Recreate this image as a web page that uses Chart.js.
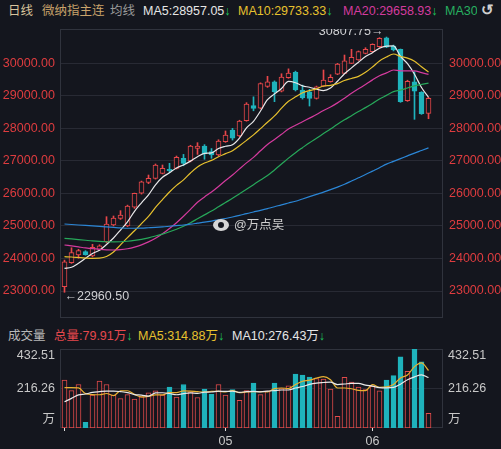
<!DOCTYPE html>
<html>
<head>
<meta charset="utf-8">
<script src="https://cdn.jsdelivr.net/npm/chart.js@4.4.0/dist/chart.umd.min.js"></script>
<style>
html,body{margin:0;padding:0;background:#14161e;}
body{width:501px;height:449px;position:relative;overflow:hidden;font-family:"Liberation Sans","Noto Sans CJK SC",sans-serif;font-size:12.5px;}
.t{position:absolute;white-space:nowrap;line-height:16px;}
.dn{color:#1fc25a;font-weight:bold;}
#k{position:absolute;left:0;top:29px;}
#v{position:absolute;left:0;top:349px;}
.wb{position:absolute;left:213px;top:219px;width:16px;height:12px;border-radius:50%;background:#d6d6d6;}
.wb i{position:absolute;left:5px;top:3px;width:6px;height:6px;border-radius:50%;background:#14161e;}
</style>
</head>
<body>
<canvas id="k" width="501" height="289"></canvas>
<canvas id="v" width="501" height="100"></canvas>

<div class="t" style="left:8px;top:3px;color:#d8c49c">日线</div>
<div class="t" style="left:42px;top:3px;color:#c9a36b">微纳指主连</div>
<div class="t" style="left:110px;top:3px;color:#9a9a9a">均线</div>
<div class="t" id="hMa5" style="left:143px;top:3px;color:#e6e6e6"></div>
<div class="t" id="hMa10" style="left:238px;top:3px;color:#e7c12e"></div>
<div class="t" id="hMa20" style="left:343px;top:3px;color:#d43b9e"></div>
<div class="t" id="hMa30" style="left:445px;top:3px;width:32px;overflow:hidden;color:#27b060"></div>
<div class="t" style="left:481px;top:2px;color:#d0d0d0;font-size:15px;font-weight:bold">↺</div>

<div class="t" style="left:8px;top:328px;color:#b8b8b8">成交量</div>
<div class="t" id="hVol" style="left:54px;top:328px;color:#e5484d"></div>
<div class="t" id="hVma5" style="left:138px;top:328px;color:#e7c12e"></div>
<div class="t" id="hVma10" style="left:232px;top:328px;color:#e6e6e6"></div>

<div class="wb"><i></i></div>
<div class="t" style="left:234px;top:217px;color:#d0d0d0">@万点吴</div>

<script>
// K线 (53 根日线)
const open = [23133,23870,24110,24210,24076,24280,24516,25030,25235,25000,25574,26004,26342,26465,26618,26740,26772,27080,26997,27385,27457,27283,27181,27590,27950,27766,28240,28697,28620,29290,29434,29140,29560,29723,29180,29127,28924,29300,29434,29670,29693,30000,30102,30307,30357,30510,30780,30530,30430,28850,29434,29108,28462];
const high = [23950,24330,24282,24240,24436,24420,25285,25306,25470,25640,26010,26380,26566,26905,26874,26925,27150,27200,27480,27560,27500,27380,27650,27920,28000,28250,28790,28970,29400,29600,29460,29680,29830,29760,29330,29200,29300,29795,29650,30000,30255,30430,30380,30480,30600,30790,30807.75,30560,30440,29480,29742,29130,28955];
const low = [22960.5,23850,24005,24100,24050,24250,24480,25000,25200,24980,25540,25980,26300,26440,26600,26640,26750,26850,26970,27200,27050,27080,27160,27570,27640,27740,28220,28540,28600,29260,28820,29120,29540,29150,28900,28687,28900,29280,29420,29650,29680,29990,30090,30290,30340,30490,30480,30380,28800,28830,28278,28430,28297];
const close = [23900,24178,24240,24115,24344,24390,25060,25240,25337,25613,26004,26360,26465,26874,26772,26700,27110,26925,27457,27457,27212,27181,27610,27796,27695,28226,28750,28616,29380,29434,29127,29580,29700,29180,28940,28924,29280,29485,29570,29980,30080,30184,30357,30430,30584,30768,30500,30408,28820,29450,29140,28450,28924];

// 均线
const ma5 = [23698,23730,23852,24006,24155,24253,24430,24630,24874,25128,25451,25711,25956,26263,26495,26634,26784,26876,26993,27130,27232,27246,27383,27451,27499,27702,28015,28217,28533,28881,29061,29227,29444,29404,29305,29265,29205,29162,29240,29448,29679,29860,30034,30206,30327,30465,30528,30538,30216,29989,29664,29255,28957.05];
const ma10 = [24055,24045,24030,24015,24005,24010,24060,24200,24420,24642,24852,25071,25293,25569,25812,26043,26248,26416,26628,26813,26933,27015,27130,27222,27315,27467,27631,27800,27992,28190,28382,28621,28831,28969,29093,29163,29216,29303,29322,29377,29472,29533,29598,29723,29888,30072,30194,30286,30211,30158,30065,29892,29733.33];
const ma20 = [24415,24385,24355,24325,24300,24280,24265,24260,24270,24300,24350,24420,24510,24620,24760,24920,25100,25300,25510,25728,25893,26043,26212,26396,26564,26755,26940,27108,27310,27502,27658,27818,27981,28096,28204,28315,28424,28552,28657,28784,28927,29077,29215,29346,29491,29618,29705,29795,29767,29768,29769,29713,29658.93];
const ma30 = [24620,24600,24580,24560,24540,24525,24515,24510,24515,24530,24555,24590,24635,24690,24750,24820,24900,24990,25100,25220,25340,25460,25590,25720,25850,25990,26130,26270,26410,26548,26722,26902,27085,27253,27407,27558,27698,27840,27981,28127,28262,28390,28520,28638,28765,28901,29014,29130,29175,29242,29306,29349,29392];
const ma60 = [25060,25045,25030,25015,25000,24985,24970,24955,24940,24930,24930,24935,24945,24955,24970,24990,25010,25030,25055,25085,25115,25150,25190,25230,25275,25325,25380,25430,25480,25535,25590,25650,25705,25760,25830,25900,25970,26040,26115,26195,26280,26380,26480,26580,26685,26790,26900,26985,27070,27155,27240,27320,27400];

// 成交量 (万)
const vol = [262,205,238,31,180,257,238,180,161,183,158,170,192,203,180,224,169,238,198,167,213,185,238,180,211,152,205,246,183,202,246,216,231,295,290,279,271,268,213,64,277,251,224,210,228,203,262,287,390,310,432.51,362,79.91];
const vma5 = [221,221,220,188,183,182,189,177,203,204,184,170,173,181,181,194,194,203,202,199,197,200,200,197,205,193,197,199,199,198,216,219,216,238,256,262,273,281,264,219,219,215,206,205,238,223,225,238,274,290,336,356,314.88];
const vma10 = [144,162,181,186,195,199,202,202,199,194,183,180,175,192,193,189,182,188,192,190,196,197,202,200,202,195,199,200,198,202,205,208,208,219,227,239,246,249,251,238,241,244,244,235,229,221,220,222,240,264,280,291,276.43];

// 刻度
const priceTicks = [23000,24000,25000,26000,27000,28000,29000,30000];
const priceMin = 22170, priceMax = 31055;
const volTicks = [432.51, 216.26, 0];
const volTickText = ['432.51', '216.26', '万'];
const monthIdx = [0, 23, 44];
const monthText = ['', '05', '06'];

const BG = '#14161e', RED = '#e8474a', TEAL = '#1fb3bc', GRID = '#282a34', EDGE = '#30333d';
const FONT = '"Liberation Sans", "Noto Sans CJK SC", sans-serif';
const xMin = -0.642857, xMax = 54.0714;
const idx = close.map((c, i) => i);
const up = idx.map(i => close[i] >= open[i]);

const last = a => a[a.length - 1].toFixed(2);
const arrow = '<span class="dn">↓</span>';
document.getElementById('hMa5').innerHTML = 'MA5:' + last(ma5) + arrow;
document.getElementById('hMa10').innerHTML = 'MA10:' + last(ma10) + arrow;
document.getElementById('hMa20').innerHTML = 'MA20:' + last(ma20) + arrow;
document.getElementById('hMa30').innerHTML = 'MA30:' + last(ma30);
document.getElementById('hVol').innerHTML = '总量:' + last(vol) + '万' + arrow;
document.getElementById('hVma5').innerHTML = 'MA5:' + last(vma5) + '万' + arrow;
document.getElementById('hVma10').innerHTML = 'MA10:' + last(vma10) + '万' + arrow;

const frame = {
  id: 'frame',
  beforeDatasetsDraw(c) {
    const a = c.chartArea, ctx = c.ctx;
    ctx.save();
    ctx.strokeStyle = EDGE;
    ctx.lineWidth = 1;
    ctx.strokeRect(Math.round(a.left) + 0.5, Math.round(a.top) + 0.5, Math.round(a.width) - 1, Math.round(a.height) - 1);
    ctx.restore();
  }
};

const marks = {
  id: 'marks',
  afterDatasetsDraw(c) {
    const ctx = c.ctx, xs = c.scales.x, ys = c.scales.y;
    let hi = 0, lo = 0;
    high.forEach((v, i) => { if (v > high[hi]) hi = i; });
    low.forEach((v, i) => { if (v < low[lo]) lo = i; });
    ctx.save();
    ctx.font = '12.5px ' + FONT;
    ctx.fillStyle = '#cfcfd2';
    ctx.textBaseline = 'middle';
    ctx.textAlign = 'right';
    ctx.fillText(high[hi].toFixed(2) + '→', xs.getPixelForValue(hi) - 3, ys.getPixelForValue(high[hi]) - 5);
    ctx.textAlign = 'left';
    ctx.fillText('←' + low[lo].toFixed(2), xs.getPixelForValue(lo), ys.getPixelForValue(low[lo]) + 4);
    ctx.restore();
  }
};

const volLabels = {
  id: 'volLabels',
  afterDraw(c) {
    const ctx = c.ctx, ys = c.scales.y, a = c.chartArea;
    ctx.save();
    ctx.font = '12.5px ' + FONT;
    ctx.fillStyle = '#c8c8c8';
    ctx.textBaseline = 'middle';
    volTicks.forEach((v, i) => {
      const y = Math.min(Math.max(ys.getPixelForValue(v), a.top + 7), a.bottom - 8.5);
      ctx.textAlign = 'right';
      ctx.fillText(volTickText[i], a.left - 5, y);
      ctx.textAlign = 'left';
      ctx.fillText(volTickText[i], a.right + 5, y);
    });
    ctx.restore();
  }
};

function fixWidth(w) {
  return s => { s.width = w; s.paddingTop = 0; s.paddingBottom = 0; };
}

const line = (data, color) => ({
  type: 'line',
  data: idx.map(i => ({x: i, y: data[i]})),
  borderColor: color,
  borderWidth: 1.2,
  pointRadius: 0,
  cubicInterpolationMode: 'monotone',
  order: -1
});

new Chart(document.getElementById('k'), {
  type: 'bar',
  data: {
    datasets: [
      {
        data: idx.map(i => ({x: i, y: [open[i], close[i]]})),
        backgroundColor: idx.map(i => up[i] ? BG : TEAL),
        borderColor: idx.map(i => up[i] ? RED : TEAL),
        borderWidth: 1,
        borderSkipped: false,
        barThickness: 5,
        minBarLength: 1,
        grouped: false,
        order: 0
      },
      {
        data: idx.map(i => ({x: i, y: [low[i], high[i]]})),
        backgroundColor: idx.map(i => up[i] ? RED : TEAL),
        borderWidth: 0,
        barThickness: 1,
        grouped: false,
        order: 1
      },
      line(ma60, '#2b86d6'),
      line(ma30, '#27a85a'),
      line(ma20, '#d43b9e'),
      line(ma10, '#e7c12e'),
      line(ma5, '#e8e8ea')
    ]
  },
  options: {
    responsive: false,
    animation: false,
    layout: {padding: 0},
    plugins: {legend: {display: false}, tooltip: {enabled: false}},
    scales: {
      x: {
        type: 'linear', min: xMin, max: xMax, offset: false, display: false,
        grid: {offset: false}
      },
      y: {
        position: 'left', min: priceMin, max: priceMax,
        afterBuildTicks: s => { s.ticks = priceTicks.map(v => ({value: v})); },
        afterFit: fixWidth(60),
        grid: {color: GRID, drawTicks: false},
        border: {display: false},
        ticks: {color: '#de3c3f', padding: 5, font: {size: 12.5, family: FONT}, callback: v => v.toFixed(2)}
      },
      y2: {
        position: 'right', min: priceMin, max: priceMax,
        afterBuildTicks: s => { s.ticks = priceTicks.map(v => ({value: v})); },
        afterFit: fixWidth(58),
        grid: {display: false, drawTicks: false},
        border: {display: false},
        ticks: {color: '#de3c3f', padding: 6, font: {size: 12.5, family: FONT}, callback: v => v.toFixed(2)}
      }
    }
  },
  plugins: [frame, marks]
});

new Chart(document.getElementById('v'), {
  type: 'bar',
  data: {
    datasets: [
      {
        data: idx.map(i => ({x: i, y: vol[i]})),
        backgroundColor: idx.map(i => up[i] ? BG : TEAL),
        borderColor: idx.map(i => up[i] ? '#e44b4b' : TEAL),
        borderWidth: 1,
        borderSkipped: false,
        barThickness: 5,
        grouped: false,
        order: 0
      },
      line(vma10, '#e8e8e8'),
      line(vma5, '#e9b130')
    ]
  },
  options: {
    responsive: false,
    animation: false,
    layout: {padding: 0},
    plugins: {legend: {display: false}, tooltip: {enabled: false}},
    scales: {
      x: {
        type: 'linear', min: xMin, max: xMax, offset: false,
        afterBuildTicks: s => { s.ticks = monthIdx.map(v => ({value: v})); },
        afterFit: s => { s.height = 21; s.paddingLeft = 0; s.paddingRight = 0; },
        grid: {offset: false, drawOnChartArea: false, drawTicks: true, tickLength: 3, tickColor: '#e0e0e0'},
        border: {display: false},
        ticks: {
          color: '#c8c8c8', padding: 3, autoSkip: false, maxRotation: 0,
          font: {size: 12.5, family: FONT},
          callback: v => monthText[monthIdx.indexOf(v)]
        }
      },
      y: {
        position: 'left', min: 0, max: 432.51,
        afterBuildTicks: s => { s.ticks = [{value: 216.26}]; },
        afterFit: fixWidth(60),
        grid: {color: GRID, drawTicks: false},
        border: {display: false},
        ticks: {display: false}
      },
      y2: {
        position: 'right', min: 0, max: 432.51,
        afterFit: fixWidth(58),
        grid: {display: false},
        border: {display: false},
        ticks: {display: false}
      }
    }
  },
  plugins: [frame, volLabels]
});
</script>
</body>
</html>
